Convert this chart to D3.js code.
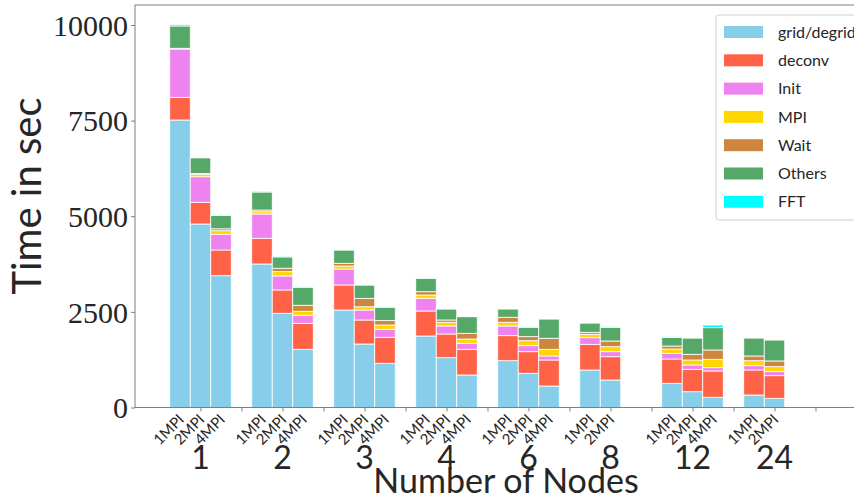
<!DOCTYPE html>
<html>
<head>
<meta charset="utf-8">
<script src="https://cdn.jsdelivr.net/npm/d3@7"></script>
<style>
  html, body { margin: 0; padding: 0; background: #fff; }
  svg { display: block; }
</style>
</head>
<body>
<svg id="chart" width="854" height="500"></svg>
<script>
// ---- data ----
const groups = ["1", "2", "3", "4", "6", "8", "12", "24"];
const configs = ["1MPI", "2MPI", "4MPI"];
const seriesNames = ["grid/degrid", "deconv", "Init", "MPI", "Wait", "Others", "FFT"];
const seriesColors = ["#87ceeb", "#ff6347", "#ee82ee", "#ffd700", "#cd853f", "#55a868", "#00ffff"];
const yTicks = [0, 2500, 5000, 7500, 10000];

// values per (group, config), null = not measured
const gridVals   = [7516, 4797, 3446, 3752, 2463, 1522, 2549, 1660, 1156, 1869, 1302, 850, 1224, 894, 562, 980, 719, null, 633, 413, 267, 327, 241, null];
const deconvVals = [593, 567, 672, 672, 610, 680, 654, 627, 680, 654, 620, 672, 654, 565, 680, 672, 609, null, 635, 586, 688, 654, 591, null];
const initVals   = [1263, 669, 410, 635, 366, 209, 418, 261, 209, 332, 209, 157, 254, 157, 105, 173, 131, null, 149, 112, 86, 112, 105, null];
const mpiVals    = [10, 63, 94, 60, 113, 105, 78, 86, 113, 86, 97, 112, 97, 131, 175, 89, 131, null, 112, 131, 220, 131, 131, null];
const waitVals   = [10, 20, 50, 44, 89, 157, 70, 220, 113, 86, 60, 149, 131, 105, 288, 52, 149, null, 78, 149, 243, 123, 149, null];
const otherVals  = [583, 413, 348, 471, 296, 471, 348, 348, 350, 350, 288, 434, 217, 246, 505, 243, 358, null, 227, 426, 583, 471, 549, null];
const fftVals    = [40, 20, 20, 26, 26, 16, 20, 20, 16, 16, 16, 18, 16, 16, 16, 16, 16, null, 16, 16, 70, 16, 18, null];

const seriesValues = [gridVals, deconvVals, initVals, mpiVals, waitVals, otherVals, fftVals];

(function () {
// ---- build table ----
const rows = [];
groups.forEach((g, gi) => {
  configs.forEach((c, ci) => {
    const idx = gi * 3 + ci;
    if (gridVals[idx] === null) return;
    const row = { group: g, config: c, slot: gi * 4 + ci };
    seriesNames.forEach((s, si) => { row[s] = seriesValues[si][idx]; });
    rows.push(row);
  });
});

const svg = d3.select("#chart");
const pLeft = 135, pRight = 877, pTop = 5, pBottom = 407.5;

const x = d3.scaleLinear().domain([-2.195, 34]).range([pLeft, pRight]);
const y = d3.scaleLinear().domain([0, 10523]).range([pBottom, pTop]);
const color = d3.scaleOrdinal().domain(seriesNames).range(seriesColors);
const slotW = x(1) - x(0);

const stacked = d3.stack().keys(seriesNames)(rows);

// bars
svg.append("g").selectAll("g")
  .data(stacked)
  .join("g")
  .attr("fill", d => color(d.key))
  .selectAll("rect")
  .data(d => d)
  .join("rect")
  .attr("x", d => x(d.data.slot) - slotW / 2)
  .attr("width", slotW)
  .attr("y", d => y(d[1]))
  .attr("height", d => Math.max(0, y(d[0]) - y(d[1])))
  .attr("stroke", "#fff")
  .attr("stroke-width", 0.8);

const axisColor = "#7f7f7f";
const textColor = "#262626";

// y axis
const yAxis = svg.append("g")
  .attr("transform", `translate(${pLeft},0)`)
  .call(d3.axisLeft(y).tickValues(yTicks).tickSize(4).tickPadding(3).tickFormat(d3.format("d")));
yAxis.select(".domain").remove();
yAxis.selectAll(".tick line").attr("stroke", axisColor);
yAxis.selectAll(".tick text")
  .attr("fill", textColor)
  .attr("font-family", "'Liberation Serif', 'DejaVu Serif', serif")
  .attr("font-size", 30)
  .attr("dy", "0.34em");

// x axis ticks (at 2nd bar of each group and at each gap)
const xTickSlots = [];
groups.forEach((g, gi) => { xTickSlots.push(gi * 4 + 1, gi * 4 + 3); });
const xAxis = svg.append("g")
  .attr("transform", `translate(0,${pBottom})`)
  .call(d3.axisBottom(x).tickValues(xTickSlots).tickSize(4).tickFormat(""));
xAxis.select(".domain").remove();
xAxis.selectAll(".tick line").attr("stroke", axisColor);

// spines
svg.append("rect")
  .attr("x", pLeft).attr("y", pTop)
  .attr("width", pRight - pLeft).attr("height", pBottom - pTop)
  .attr("fill", "none").attr("stroke", axisColor).attr("stroke-width", 1);

// config labels (rotated)
svg.append("g").selectAll("text")
  .data(rows)
  .join("text")
  .attr("transform", d => `translate(${x(d.slot) + 5},${pBottom + 13}) rotate(-45)`)
  .attr("text-anchor", "end")
  .attr("font-family", "Lato, 'DejaVu Sans', sans-serif")
  .attr("font-size", 15)
  .attr("fill", textColor)
  .text(d => d.config);

// group labels
svg.append("g").selectAll("text")
  .data(groups)
  .join("text")
  .attr("x", (d, i) => x(i * 4 + 1))
  .attr("y", 469)
  .attr("text-anchor", "middle")
  .attr("font-family", "Lato, 'DejaVu Sans', sans-serif")
  .attr("font-size", 32)
  .attr("fill", textColor)
  .text(d => d);

// axis titles
svg.append("text")
  .attr("x", (pLeft + pRight) / 2)
  .attr("y", 493)
  .attr("text-anchor", "middle")
  .attr("font-family", "Lato, 'DejaVu Sans', sans-serif")
  .attr("font-size", 34)
  .attr("fill", textColor)
  .text("Number of Nodes");

svg.append("text")
  .attr("transform", "translate(41,196) rotate(-90)")
  .attr("text-anchor", "middle")
  .attr("font-family", "Lato, 'DejaVu Sans', sans-serif")
  .attr("font-size", 40)
  .attr("fill", textColor)
  .text("Time in sec");

// legend
const legend = svg.append("g");
legend.append("rect")
  .attr("x", 716).attr("y", 15)
  .attr("width", 170).attr("height", 205)
  .attr("rx", 3)
  .attr("fill", "#fff").attr("fill-opacity", 0.8)
  .attr("stroke", "#d0d0d0");
const items = legend.selectAll("g.item")
  .data(seriesNames)
  .join("g")
  .attr("class", "item")
  .attr("transform", (d, i) => `translate(0,${32 + i * 28.3})`);
items.append("rect")
  .attr("x", 724).attr("y", -6)
  .attr("width", 39).attr("height", 12)
  .attr("fill", d => color(d));
items.append("text")
  .attr("x", 778).attr("y", 0)
  .attr("dy", "0.35em")
  .attr("font-family", "Lato, 'DejaVu Sans', sans-serif")
  .attr("font-size", 16)
  .attr("fill", textColor)
  .text(d => d);
})();
</script>
</body>
</html>
